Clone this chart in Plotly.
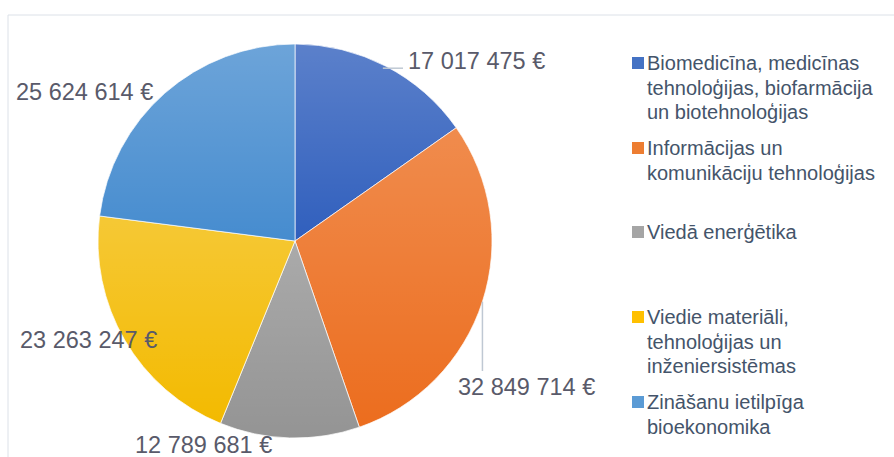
import base64
import math
import plotly.graph_objects as go

# Funding by smart-specialisation area (EUR)
categories = [
    "Biomedicīna, medicīnas tehnoloģijas, biofarmācija un biotehnoloģijas",
    "Informācijas un komunikāciju tehnoloģijas",
    "Viedā enerģētika",
    "Viedie materiāli, tehnoloģijas un inženiersistēmas",
    "Zināšanu ietilpīga bioekonomika",
]
legend_lines = [
    ["Biomedicīna, medicīnas", "tehnoloģijas, biofarmācija", "un biotehnoloģijas"],
    ["Informācijas un", "komunikāciju tehnoloģijas"],
    ["Viedā enerģētika"],
    ["Viedie materiāli,", "tehnoloģijas un", "inženiersistēmas"],
    ["Zināšanu ietilpīga", "bioekonomika"],
]
values = [17017475, 32849714, 12789681, 23263247, 25624614]

# slice colours (darker gradient end) and legend swatch colours
slice_colors = ["#305FBD", "#EC6D1E", "#949494", "#F3BA00", "#468CCF"]
swatch_colors = ["#4472C4", "#ED7D31", "#A5A5A5", "#FFC000", "#5B9BD5"]

W, H = 894, 457
CX, CY, R = 295, 241, 197
LABEL_COLOR = "#595A6A"
LEGEND_COLOR = "#44546A"
FONT = "Liberation Sans, Arial, sans-serif"


def px(x):
    return x / W


def py(y):
    return 1 - y / H


def fmt_eur(v):
    return f"{v:,}".replace(",", " ") + " €"


fig = go.Figure()
fig.add_trace(go.Pie(
    labels=categories,
    values=values,
    sort=False,
    direction="clockwise",
    rotation=0,
    marker=dict(colors=slice_colors, line=dict(color="white", width=0.7)),
    textinfo="none",
    hoverinfo="label+value+percent",
    showlegend=False,
    domain=dict(x=[px(CX - R), px(CX + R)], y=[py(CY + R), py(CY - R)]),
))

# vertical light-to-dark sheen on each wedge (per-wedge bounding box)
total = sum(values)
paths = []
acc = 0
for v in values:
    a0 = acc / total * 2 * math.pi
    a1 = (acc + v) / total * 2 * math.pi
    acc += v
    large = 1 if (a1 - a0) > math.pi else 0
    d = (f"M0 0 L{math.sin(a0):.6f} {-math.cos(a0):.6f} "
         f"A1 1 0 {large} 1 {math.sin(a1):.6f} {-math.cos(a1):.6f} Z")
    paths.append(f'<path d="{d}" fill="url(#g)"/>')
svg = (
    '<svg xmlns="http://www.w3.org/2000/svg" viewBox="-1 -1 2 2" width="394" height="394">'
    '<defs><linearGradient id="g" x1="0" y1="0" x2="0" y2="1">'
    '<stop offset="0" stop-color="#ffffff" stop-opacity="0.21"/>'
    '<stop offset="1" stop-color="#ffffff" stop-opacity="0"/>'
    '</linearGradient></defs>' + "".join(paths) + '</svg>'
)
fig.add_layout_image(dict(
    source="data:image/svg+xml;base64," + base64.b64encode(svg.encode()).decode(),
    xref="paper", yref="paper",
    x=px(CX - R), y=py(CY - R), sizex=2 * R / W, sizey=2 * R / H,
    xanchor="left", yanchor="top", sizing="stretch", layer="above",
))

shapes = []
annotations = []

# chart frame
shapes.append(dict(type="rect", xref="paper", yref="paper",
                   x0=px(8), x1=px(W + 20), y0=py(H + 20), y1=py(15),
                   line=dict(color="#DCE1E8", width=1), fillcolor="rgba(0,0,0,0)"))

# leader lines start at each wedge's mid-angle on the rim
mids = []
acc = 0
for v in values:
    mids.append((acc + v / 2) / total * 2 * math.pi)
    acc += v


def rim(i):
    return CX + R * math.sin(mids[i]), CY - R * math.cos(mids[i])


bx, by = rim(0)
shapes.append(dict(type="line", xref="paper", yref="paper",
                   x0=px(bx - 3), y0=py(by + 2), x1=px(403), y1=py(by + 2),
                   line=dict(color="#BFC8D3", width=1.5)))
ox, oy = rim(1)
shapes.append(dict(type="line", xref="paper", yref="paper",
                   x0=px(ox), y0=py(oy), x1=px(ox), y1=py(371),
                   line=dict(color="#BFC8D3", width=1.5)))

# data label positions (left edge, vertical centre) in pixels, per wedge
label_pos = [(406, 61), (456, 387), (133, 445), (18, 340), (14, 92)]
for v, (lx, ly) in zip(values, label_pos):
    annotations.append(dict(
        text=fmt_eur(v), xref="paper", yref="paper", x=px(lx), y=py(ly),
        xanchor="left", yanchor="middle", showarrow=False,
        font=dict(family=FONT, size=23.5, color=LABEL_COLOR),
    ))

# legend entries: first-line centres, fixed line pitch
legend_y = [63, 148, 232, 317, 402]
LINE_PITCH = 24.5
for lines, col, cy in zip(legend_lines, swatch_colors, legend_y):
    shapes.append(dict(type="rect", xref="paper", yref="paper",
                       x0=px(632), x1=px(644), y0=py(cy + 6), y1=py(cy - 6),
                       line=dict(width=0), fillcolor=col))
    for k, line in enumerate(lines):
        annotations.append(dict(
            text=line, xref="paper", yref="paper",
            x=px(645), y=py(cy + k * LINE_PITCH), xanchor="left", yanchor="middle",
            showarrow=False, font=dict(family=FONT, size=20, color=LEGEND_COLOR),
        ))

fig.update_layout(
    width=W, height=H,
    margin=dict(l=0, r=0, t=0, b=0),
    paper_bgcolor="white", plot_bgcolor="white",
    shapes=shapes, annotations=annotations,
    showlegend=False,
)

fig.write_html("out.html")
